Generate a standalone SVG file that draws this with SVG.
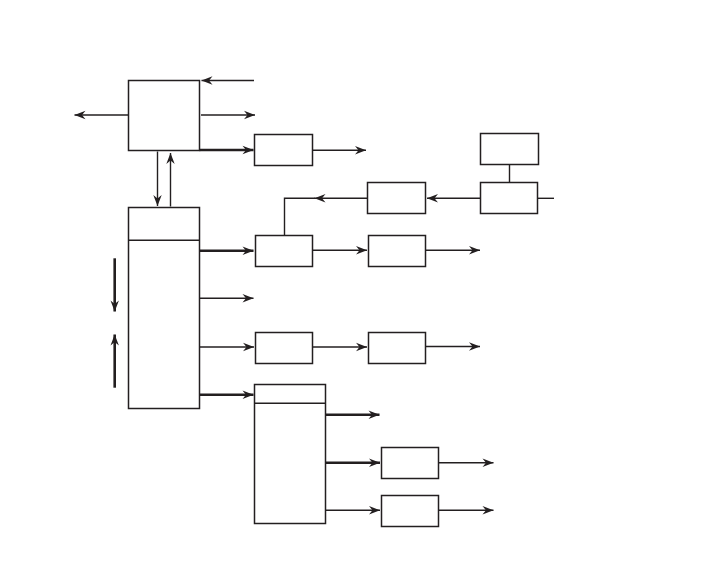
<svg xmlns="http://www.w3.org/2000/svg" width="702" height="576" viewBox="0 0 702 576">
<style>
.box{fill:#fff;stroke:#231f20;stroke-width:1.5}
.ln{fill:none;stroke:#231f20;stroke-width:1.4}
.thk{fill:none;stroke:#231f20;stroke-width:2.6}
.arr{marker-end:url(#ah)}
</style>
<defs>
<marker id="ah" markerUnits="userSpaceOnUse" markerWidth="14" markerHeight="10" viewBox="-12 -5 13 10" refX="0" refY="0" orient="auto">
<path d="M0,0 L-11,-4.2 L-7.5,0 L-11,4.2 Z" fill="#231f20"/>
</marker>
</defs>
<rect width="702" height="576" fill="#fff"/>
<g id="connectors">
<line class="ln arr" x1="254" y1="80.5" x2="201.5" y2="80.5"/>
<line class="ln arr" x1="128.5" y1="115" x2="74.5" y2="115"/>
<line class="ln arr" x1="201" y1="115" x2="255" y2="115"/>
<line class="thk arr" x1="199.5" y1="150" x2="253.5" y2="150"/>
<line class="ln arr" x1="312.5" y1="150.3" x2="366" y2="150.3"/>
<line class="ln arr" x1="157.5" y1="151.5" x2="157.5" y2="206"/>
<line class="ln arr" x1="170.5" y1="206.5" x2="170.5" y2="153"/>
<line class="ln" x1="509.5" y1="164.5" x2="509.5" y2="182.5"/>
<line class="ln" x1="537.5" y1="198.3" x2="554" y2="198.3"/>
<line class="ln arr" x1="480.5" y1="198.3" x2="427" y2="198.3"/>
<line class="ln arr" x1="367.5" y1="198.3" x2="314.5" y2="198.3"/>
<polyline class="ln" points="315,198.3 284.5,198.3 284.5,235.5"/>
<line class="thk arr" x1="199.5" y1="250.7" x2="253.5" y2="250.7"/>
<line class="ln arr" x1="312.7" y1="250.3" x2="367" y2="250.3"/>
<line class="ln arr" x1="425.5" y1="250.3" x2="480" y2="250.3"/>
<line class="ln arr" x1="199.5" y1="298.3" x2="253.5" y2="298.3"/>
<line class="ln arr" x1="199.5" y1="347" x2="254" y2="347"/>
<line class="ln arr" x1="312.7" y1="347" x2="367" y2="347"/>
<line class="ln arr" x1="425.5" y1="346.5" x2="480" y2="346.5"/>
<line class="thk arr" x1="199.5" y1="394.7" x2="253.5" y2="394.7"/>
<line class="thk arr" x1="325.7" y1="414.7" x2="379.5" y2="414.7"/>
<line class="thk arr" x1="325.7" y1="462.7" x2="380" y2="462.7"/>
<line class="ln arr" x1="325.7" y1="510.3" x2="380" y2="510.3"/>
<line class="ln arr" x1="438.7" y1="462.7" x2="493.5" y2="462.7"/>
<line class="ln arr" x1="438.7" y1="510.3" x2="493.5" y2="510.3"/>
<line class="thk arr" x1="114.7" y1="258.3" x2="114.7" y2="311.5"/>
<line class="thk arr" x1="114.7" y1="387.7" x2="114.7" y2="334.5"/>
</g>
<g id="nodeA"><rect class="box" x="128.5" y="80.5" width="71" height="70"/></g>
<g id="nodeB"><rect class="box" x="254.5" y="134.5" width="58" height="31"/></g>
<g id="nodeC"><rect class="box" x="128.5" y="207.5" width="71" height="201"/><line class="ln" x1="128.5" y1="240.3" x2="199.5" y2="240.3"/></g>
<g id="nodeD1"><rect class="box" x="255.5" y="235.5" width="57" height="31"/></g>
<g id="nodeD2"><rect class="box" x="255.5" y="332.5" width="57" height="31"/></g>
<g id="nodeE1"><rect class="box" x="368.5" y="235.5" width="57" height="31"/></g>
<g id="nodeE2"><rect class="box" x="368.5" y="332.5" width="57" height="31"/></g>
<g id="nodeF"><rect class="box" x="254.5" y="384.5" width="71" height="139"/><line class="ln" x1="254.5" y1="403.3" x2="325.5" y2="403.3"/></g>
<g id="nodeG1"><rect class="box" x="381.5" y="447.5" width="57" height="31"/></g>
<g id="nodeG2"><rect class="box" x="381.5" y="495.5" width="57" height="31"/></g>
<g id="nodeH"><rect class="box" x="480.5" y="133.5" width="58" height="31"/></g>
<g id="nodeI"><rect class="box" x="480.5" y="182.5" width="57" height="31"/></g>
<g id="nodeJ"><rect class="box" x="367.5" y="182.5" width="58" height="31"/></g>
</svg>
